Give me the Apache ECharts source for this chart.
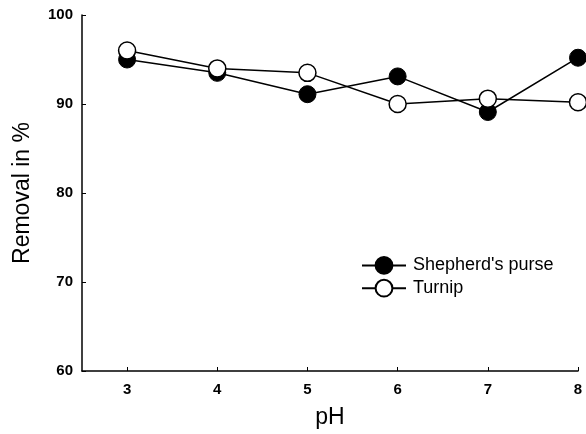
<!DOCTYPE html>
<html>
<head>
<meta charset="utf-8">
<script src="https://cdn.jsdelivr.net/npm/echarts@6/dist/echarts.min.js"></script>
<style>
  html, body { margin: 0; padding: 0; background: #fff; }
  #chart { width: 586px; height: 434px; }
</style>
</head>
<body>
<div id="chart"></div>
<script>
// pH values and removal (%)
const phValues = [3, 4, 5, 6, 7, 8];
const shepherdsPurse = [95.0, 93.5, 91.1, 93.1, 89.1, 95.2];
const turnip = [96.0, 94.0, 93.5, 90.0, 90.6, 90.2];
const yTicks = [60, 70, 80, 90, 100];

const font = 'Liberation Sans, Arial, sans-serif';

function pairs(xs, ys) {
    return xs.map((x, i) => [x, ys[i]]);
}

const chart = echarts.init(document.getElementById('chart'));

chart.setOption({
    animation: false,
    backgroundColor: '#fff',
    grid: { left: 82, right: 8, top: 15, bottom: 62 },
    legend: {
        left: 356,
        top: 251,
        orient: 'vertical',
        itemWidth: 44,
        itemHeight: 21,
        itemGap: 4,
        textStyle: { fontFamily: font, fontSize: 18, color: '#000', padding: [0, 0, 0, 2] },
        data: ["Shepherd's purse", 'Turnip']
    },
    xAxis: {
        type: 'value',
        min: 2.5,
        max: 8,
        interval: 0.5,
        name: 'pH',
        nameLocation: 'middle',
        nameGap: 35,
        nameTextStyle: { fontFamily: font, fontSize: 23, color: '#000' },
        axisLine: { lineStyle: { color: '#000', width: 1.5 } },
        axisTick: { inside: true, length: 4, customValues: phValues, lineStyle: { color: '#000' } },
        axisLabel: {
            fontFamily: font, fontSize: 15, fontWeight: 'bold', color: '#000', margin: 11,
            customValues: phValues
        },
        splitLine: { show: false }
    },
    yAxis: {
        type: 'value',
        min: yTicks[0],
        max: yTicks[yTicks.length - 1],
        interval: 10,
        name: 'Removal in %',
        nameLocation: 'middle',
        nameRotate: 90,
        nameGap: 48,
        nameTextStyle: { fontFamily: font, fontSize: 23, color: '#000' },
        axisLine: { show: true, lineStyle: { color: '#000', width: 1.5 } },
        axisTick: { show: true, inside: true, length: 4, lineStyle: { color: '#000' } },
        axisLabel: { fontFamily: font, fontSize: 15, fontWeight: 'bold', color: '#000', margin: 9 },
        splitLine: { show: false }
    },
    series: [
        {
            name: "Shepherd's purse",
            type: 'line',
            data: pairs(phValues, shepherdsPurse),
            symbol: 'circle',
            symbolSize: 17,
            lineStyle: { color: '#000', width: 1.5 },
            itemStyle: { color: '#000', borderColor: '#000', borderWidth: 1 },
            z: 2
        },
        {
            name: 'Turnip',
            type: 'line',
            data: pairs(phValues, turnip),
            symbol: 'circle',
            symbolSize: 17,
            lineStyle: { color: '#000', width: 1.5 },
            itemStyle: { color: '#fff', borderColor: '#000', borderWidth: 1.5 },
            z: 3
        }
    ]
});
</script>
</body>
</html>
